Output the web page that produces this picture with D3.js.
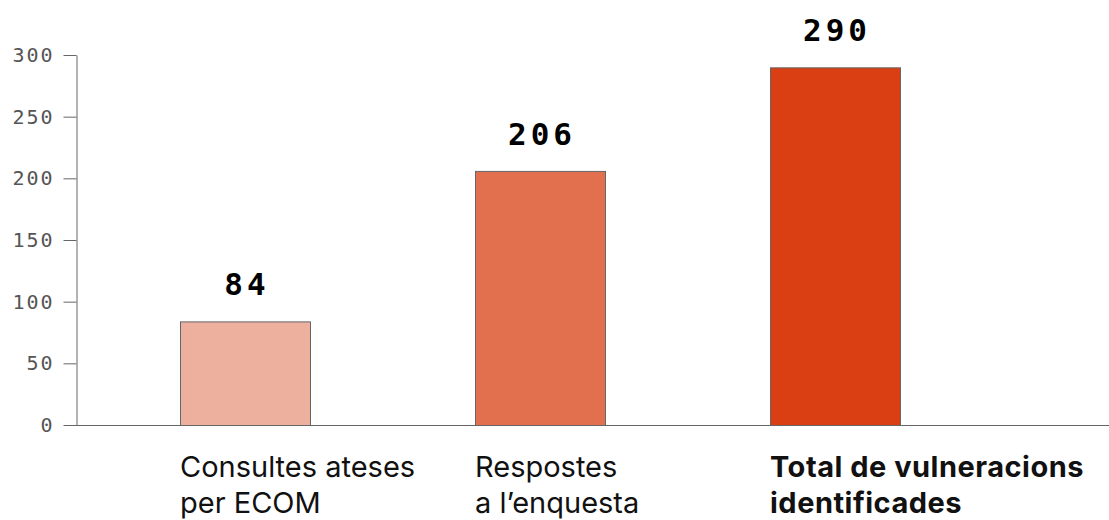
<!DOCTYPE html>
<html><head><meta charset="utf-8">
<script src="https://cdn.jsdelivr.net/npm/d3@7"></script>
<style>
body{margin:0;background:#fff;}
svg{display:block;}
</style></head>
<body>
<svg id="c" width="1109" height="520"></svg>
<script>
const categories = [
  ["Consultes ateses", "per ECOM"],
  ["Respostes", "a l\u2019enquesta"],
  ["Total de vulneracions", "identificades"]
];
const values = [84, 206, 290];
const colors = ["#EEB09E", "#E2704F", "#D93F12"];
const boldLabel = [false, false, true];
const yTicks = [0, 50, 100, 150, 200, 250, 300];

const svg = d3.select("#c");
const x = d3.scaleBand().domain(d3.range(values.length)).range([180, 900]).paddingInner(165/295).paddingOuter(0);
const y = d3.scaleLinear().domain([0, 300]).range([425, 55]);

// y axis
const ax = svg.append("g").attr("transform", "translate(76.5,0)")
  .call(d3.axisLeft(y).tickValues(yTicks).tickSize(13).tickPadding(9).tickSizeOuter(0));
ax.select(".domain").attr("stroke", "#666");
ax.selectAll(".tick line").attr("stroke", "#666");
ax.selectAll(".tick text").attr("fill", "#555").style("font-family", "'DejaVu Sans Mono', monospace")
  .style("font-size", "20px").style("letter-spacing", "2px");

// baseline
svg.append("line").attr("x1", 64).attr("x2", 1109).attr("y1", y(0)+0.5).attr("y2", y(0)+0.5).attr("stroke", "#666");

// bars
svg.selectAll("rect.bar").data(values).join("rect").attr("class", "bar")
  .attr("x", (d, i) => x(i) + 0.5).attr("y", d => y(d) + 0.5)
  .attr("width", x.bandwidth()).attr("height", d => y(0) - y(d))
  .attr("fill", (d, i) => colors[i]).attr("stroke", "#666").attr("stroke-width", 1);

// value labels
svg.selectAll("text.val").data(values).join("text").attr("class", "val")
  .attr("x", (d, i) => x(i) + x.bandwidth()/2 + 2).attr("y", d => y(d) - 26)
  .attr("text-anchor", "middle").attr("fill", "#000")
  .style("font-family", "'DejaVu Sans Mono', monospace").style("font-weight", "bold")
  .style("font-size", "31px").style("letter-spacing", "4px")
  .text(d => d);

// category labels
const cl = svg.selectAll("text.cat").data(categories).join("text").attr("class", "cat")
  .attr("x", (d, i) => x(i)).attr("y", 477)
  .attr("fill", "#111")
  .style("font-family", "Inter, sans-serif")
  .style("font-weight", (d, i) => boldLabel[i] ? "bold" : "normal")
  .style("letter-spacing", (d, i) => boldLabel[i] ? "0.5px" : "0px")
  .style("font-size", "29px");
cl.selectAll("tspan").data(d => d).join("tspan")
  .attr("x", function(){ return d3.select(this.parentNode).attr("x"); })
  .attr("dy", (d, j) => j === 0 ? 0 : 36).text(d => d);
</script>
</body></html>
